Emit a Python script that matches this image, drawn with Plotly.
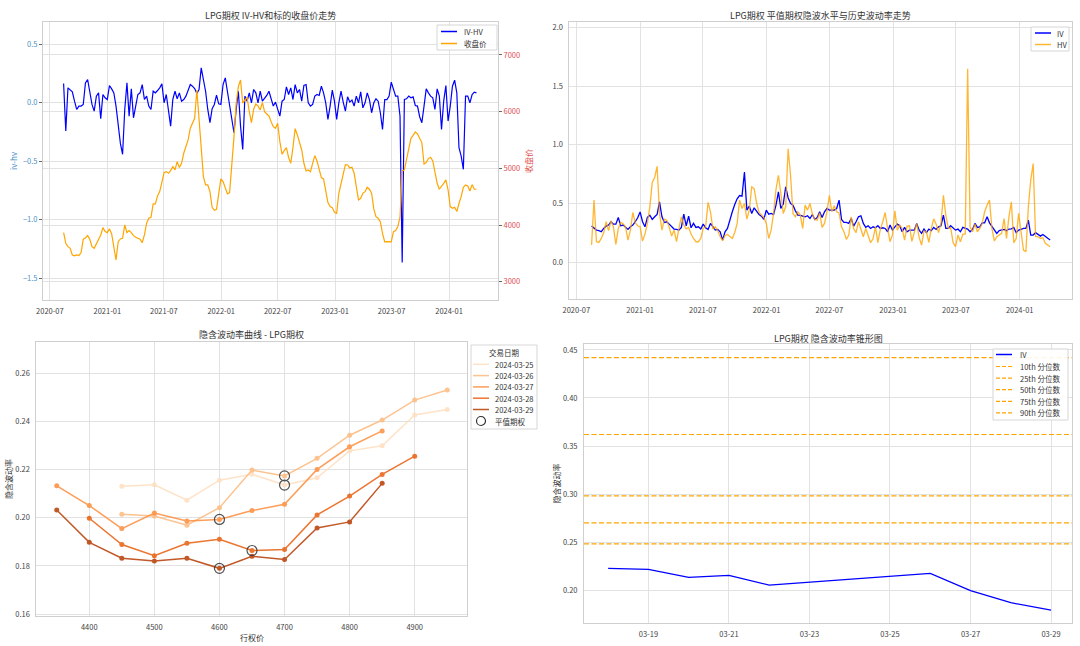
import pandas as pd
import plotly.graph_objects as go

W, H = 1080, 646
FONT = "Noto Sans CJK SC, Noto Sans, DejaVu Sans, sans-serif"
TXT = "#333333"
GRID = "#e2e2e2"
SPINE = "#cfcfcf"

# ---------------- data (weekly samples) ----------------
week_start = "2020-08-14"
week_count = 190

iv_hv = [
    0.165, -0.24, 0.128, 0.114, 0.094, 0.014, -0.057, -0.028, -0.028, -0.014,
    0.170, 0.199, 0.085, -0.014, -0.071, 0.057, 0.085, -0.136, 0.071, 0.043,
    0.028, 0.148, 0.119, 0.085, -0.028, -0.199, -0.347, -0.44, -0.057, 0.170,
    -0.114, 0.119, -0.128, -0.028, 0.071, 0.085, 0.156, 0.028, 0.057, -0.028,
    -0.057, 0.099, 0.085, 0.105, 0.128, 0.162, 0.0, 0.071, -0.057, -0.199,
    0.03, 0.099, 0.034, 0.085, 0.014, 0.028, 0.057, 0.105, 0.156, 0.142,
    0.122, 0.080, 0.114, 0.298, 0.199, 0.099, -0.057, -0.170, -0.051, -0.014,
    0.065, -0.009, -0.014, 0.156, 0.213, 0.085, -0.043, -0.142, -0.256, -0.057,
    0.099, -0.199, -0.398, 0.057, 0.014, 0.085, 0.0, 0.114, 0.085, 0.0,
    0.099, 0.014, 0.034, 0.063, 0.099, 0.043, -0.028, 0.006, -0.057, -0.114,
    0.014, 0.028, 0.136, 0.071, 0.128, 0.028, 0.156, 0.085, 0.114, 0.014,
    0.148, 0.156, 0.0, -0.028, -0.014, 0.057, 0.071, 0.063, 0.142, 0.085,
    0.0, -0.142, -0.028, 0.108, 0.014, -0.142, 0.0, 0.099, 0.006, -0.071,
    0.051, 0.006, 0.023, -0.028, 0.057, 0.0, 0.094, -0.043, 0.0, 0.085,
    0.028, -0.085, 0.0, 0.034, 0.014, -0.085, -0.227, 0.028, 0.028, 0.057,
    0.176, 0.114, 0.057, 0.057, -0.114, -1.364, 0.028, 0.034, 0.057, 0.043,
    0.051, -0.023, -0.028, -0.119, -0.170, -0.028, 0.119, 0.085, 0.057, 0.043,
    -0.057, 0.119, 0.057, -0.227, 0.014, 0.148, -0.156, -0.028, 0.142, 0.193,
    0.085, -0.384, -0.455, -0.568, 0.057, 0.057, 0.0, 0.071, 0.091, 0.085,
]

close_price = [
    3866, 3678, 3619, 3590, 3472, 3455, 3472, 3460, 3513, 3749,
    3772, 3813, 3749, 3619, 3590, 3666, 3737, 3825, 3954, 3884,
    3866, 3931, 3843, 3631, 3384, 3707, 3754, 3766, 4001, 3866,
    3901, 3866, 3813, 3784, 3766, 3749, 3690, 3825, 4031, 4119,
    4137, 4372, 4372, 4513, 4589, 4766, 4925, 4942, 4913, 4960,
    5030, 4972, 5119, 5013, 5089, 5266, 5395, 5501, 5707, 5795,
    5883, 6383, 5854, 5277, 4854, 4707, 4707, 4589, 4313, 4260,
    4278, 4548, 4813, 4766, 4666, 4548, 4572, 5001, 5560, 6148,
    6442, 6559, 6148, 6206, 6253, 6001, 5807, 6042, 6136, 6101,
    6030, 6159, 6001, 5959, 5924, 5824, 5736, 5707, 5795, 5471,
    5248, 5313, 5366, 5189, 5089, 5371, 5701, 5589, 5460, 5324,
    5089, 4954, 4972, 4942, 5089, 5224, 5130, 4954, 4836, 4813,
    4607, 4395, 4325, 4307, 4225, 4207, 4560, 4748, 4901, 5066,
    5060, 5007, 5019, 4913, 4678, 4442, 4472, 4560, 4589, 4666,
    4631, 4560, 4284, 4148, 4119, 4060, 3854, 3702, 3707, 3702,
    3702, 3884, 3901, 3972, 4137, 4954, 4972, 5160, 5354, 5530,
    5583, 5642, 5607, 5524, 5454, 5077, 5101, 5172, 5195, 5130,
    4925, 4736, 4631, 4678, 4736, 4795, 4619, 4325, 4295, 4313,
    4237, 4384, 4501, 4666, 4707, 4689, 4601, 4713, 4631, 4631,
]

atm_iv = [
    0.308, 0.288, 0.274, 0.269, 0.260, 0.288, 0.308, 0.317, 0.345, 0.325,
    0.325, 0.382, 0.311, 0.317, 0.302, 0.280, 0.302, 0.317, 0.345, 0.379,
    0.429, 0.345, 0.302, 0.382, 0.401, 0.365, 0.387, 0.407, 0.515, 0.387,
    0.339, 0.345, 0.325, 0.302, 0.283, 0.280, 0.274, 0.297, 0.410, 0.311,
    0.393, 0.294, 0.331, 0.297, 0.302, 0.283, 0.325, 0.294, 0.280, 0.331,
    0.302, 0.274, 0.280, 0.260, 0.189, 0.260, 0.288, 0.368, 0.430, 0.492,
    0.540, 0.568, 0.563, 0.769, 0.444, 0.478, 0.416, 0.464, 0.436, 0.407,
    0.393, 0.365, 0.444, 0.410, 0.416, 0.407, 0.486, 0.599, 0.458, 0.495,
    0.642, 0.550, 0.501, 0.486, 0.438, 0.402, 0.399, 0.393, 0.387, 0.396,
    0.373, 0.407, 0.365, 0.382, 0.430, 0.382, 0.430, 0.458, 0.444, 0.444,
    0.444, 0.458, 0.529, 0.365, 0.339, 0.339, 0.331, 0.373, 0.308, 0.345,
    0.387, 0.396, 0.331, 0.297, 0.311, 0.288, 0.302, 0.294, 0.311, 0.288,
    0.294, 0.288, 0.260, 0.317, 0.274, 0.302, 0.325, 0.311, 0.260, 0.297,
    0.260, 0.274, 0.274, 0.274, 0.331, 0.274, 0.246, 0.283, 0.252, 0.283,
    0.269, 0.297, 0.280, 0.302, 0.311, 0.402, 0.288, 0.288, 0.311, 0.288,
    0.274, 0.283, 0.260, 0.297, 0.288, 0.283, 0.260, 0.280, 0.331, 0.297,
    0.302, 0.336, 0.336, 0.387, 0.336, 0.302, 0.280, 0.246, 0.269, 0.274,
    0.280, 0.269, 0.283, 0.285, 0.297, 0.252, 0.274, 0.280, 0.288, 0.288,
    0.359, 0.232, 0.232, 0.252, 0.240, 0.223, 0.237, 0.218, 0.204, 0.189,
]

hist_vol = [
    0.147, 0.53, 0.175, 0.169, 0.203, 0.251, 0.345, 0.269, 0.353, 0.302,
    0.152, 0.288, 0.339, 0.328, 0.300, 0.189, 0.274, 0.424, 0.336, 0.311,
    0.302, 0.181, 0.240, 0.331, 0.472, 0.679, 0.721, 0.817, 0.416, 0.274,
    0.368, 0.359, 0.297, 0.223, 0.274, 0.175, 0.288, 0.387, 0.317, 0.285,
    0.297, 0.240, 0.203, 0.175, 0.175, 0.203, 0.288, 0.302, 0.51, 0.43,
    0.283, 0.302, 0.269, 0.217, 0.184, 0.229, 0.237, 0.217, 0.203, 0.254,
    0.331, 0.529, 0.458, 0.501, 0.368, 0.444, 0.642, 0.628, 0.506, 0.424,
    0.402, 0.382, 0.331, 0.203, 0.274, 0.416, 0.620, 0.741, 0.585, 0.416,
    0.472, 0.967, 0.741, 0.416, 0.387, 0.430, 0.402, 0.288, 0.487, 0.444,
    0.501, 0.410, 0.365, 0.359, 0.421, 0.297, 0.331, 0.430, 0.57, 0.430,
    0.481, 0.430, 0.421, 0.302, 0.260, 0.195, 0.232, 0.387, 0.288, 0.252,
    0.345, 0.288, 0.217, 0.288, 0.223, 0.167, 0.200, 0.302, 0.167, 0.280,
    0.345, 0.424, 0.288, 0.175, 0.232, 0.438, 0.274, 0.317, 0.288, 0.189,
    0.308, 0.311, 0.178, 0.260, 0.331, 0.212, 0.147, 0.266, 0.260, 0.169,
    0.288, 0.370, 0.325, 0.252, 0.331, 0.57, 0.40, 0.288, 0.294, 0.167,
    0.133, 0.232, 0.175, 0.240, 0.24, 1.647, 0.302, 0.260, 0.325, 0.260,
    0.288, 0.331, 0.430, 0.487, 0.529, 0.288, 0.181, 0.217, 0.232, 0.246,
    0.373, 0.203, 0.387, 0.515, 0.167, 0.203, 0.416, 0.274, 0.104, 0.090,
    0.47, 0.70, 0.84, 0.22, 0.217, 0.203, 0.209, 0.161, 0.147, 0.133,
]

# volatility smile per trade date
smile_dates = ["2024-03-25", "2024-03-26", "2024-03-27", "2024-03-28", "2024-03-29"]
strikes_0325 = [4450, 4500, 4550, 4600, 4650, 4700, 4750, 4800, 4850, 4900, 4950]
iv_0325 = [0.2131, 0.2137, 0.2073, 0.2156, 0.2181, 0.2136, 0.2166, 0.2278, 0.2299, 0.2427, 0.2450]
strikes_0326 = [4450, 4500, 4550, 4600, 4650, 4700, 4750, 4800, 4850, 4900, 4950]
iv_0326 = [0.2015, 0.2007, 0.1969, 0.2042, 0.2198, 0.2174, 0.2247, 0.2343, 0.2406, 0.2489, 0.2531]
strikes_0327 = [4350, 4400, 4450, 4500, 4550, 4600, 4650, 4700, 4750, 4800, 4850]
iv_0327 = [0.2133, 0.2051, 0.1955, 0.2020, 0.1987, 0.1993, 0.2030, 0.2056, 0.2201, 0.2295, 0.2361]
strikes_0328 = [4400, 4450, 4500, 4550, 4600, 4650, 4700, 4750, 4800, 4850, 4900]
iv_0328 = [0.1998, 0.1889, 0.1842, 0.1894, 0.1911, 0.1864, 0.1868, 0.2012, 0.2090, 0.2180, 0.2256]
strikes_0329 = [4350, 4400, 4450, 4500, 4550, 4600, 4650, 4700, 4750, 4800, 4850]
iv_0329 = [0.2032, 0.1898, 0.1832, 0.1820, 0.1832, 0.1790, 0.1840, 0.1827, 0.1958, 0.1983, 0.2143]
atm_strikes = [4700, 4700, 4600, 4650, 4600]
smile_colors = ["#fedfbf", "#fdb97d", "#fd8d3c", "#e95e0d", "#b73c02"]

# volatility cone
cone_dates = ["2024-03-18", "2024-03-19", "2024-03-20", "2024-03-21", "2024-03-22",
              "2024-03-25", "2024-03-26", "2024-03-27", "2024-03-28", "2024-03-29"]
cone_iv = [0.2226, 0.2216, 0.2132, 0.2153, 0.2052, 0.2139, 0.2174, 0.1993, 0.1868, 0.1792]
pct_names = ["10th 分位数", "25th 分位数", "50th 分位数", "75th 分位数", "90th 分位数"]
pct_values = [0.248, 0.270, 0.298, 0.362, 0.442]

# ---------------- figure ----------------
weeks = pd.date_range(week_start, periods=week_count, freq="7D")
fig = go.Figure()

fig.add_trace(go.Scatter(x=weeks, y=iv_hv, mode="lines", name="IV-HV",
                         line=dict(color="#0000ff", width=1.2), xaxis="x", yaxis="y",
                         showlegend=False))
fig.add_trace(go.Scatter(x=weeks, y=close_price, mode="lines", name="收盘价",
                         line=dict(color="#ffa500", width=1.2), xaxis="x", yaxis="y2",
                         showlegend=False))
fig.add_trace(go.Scatter(x=weeks, y=atm_iv, mode="lines", name="IV",
                         line=dict(color="#0000ff", width=1.3), xaxis="x2", yaxis="y3",
                         showlegend=False))
fig.add_trace(go.Scatter(x=weeks, y=hist_vol, mode="lines", name="HV", opacity=0.8,
                         line=dict(color="#ffa500", width=1.3), xaxis="x2", yaxis="y3",
                         showlegend=False))

smile_strikes = [strikes_0325, strikes_0326, strikes_0327, strikes_0328, strikes_0329]
smile_ivs = [iv_0325, iv_0326, iv_0327, iv_0328, iv_0329]
for d, ks, vs, c in zip(smile_dates, smile_strikes, smile_ivs, smile_colors):
    fig.add_trace(go.Scatter(x=ks, y=vs, mode="lines+markers", name=d, opacity=0.85,
                             line=dict(color=c, width=1.5), marker=dict(color=c, size=5),
                             xaxis="x3", yaxis="y4", showlegend=False))
atm_x, atm_y = [], []
for ks, vs, a in zip(smile_strikes, smile_ivs, atm_strikes):
    atm_x.append(a)
    atm_y.append(vs[ks.index(a)])
fig.add_trace(go.Scatter(x=atm_x, y=atm_y, mode="markers", name="平值期权",
                         marker=dict(symbol="circle-open", size=10, color="#333333",
                                     line=dict(width=1.2, color="#333333")),
                         opacity=0.85, xaxis="x3", yaxis="y4", showlegend=False))

fig.add_trace(go.Scatter(x=cone_dates, y=cone_iv, mode="lines", name="IV",
                         line=dict(color="#0000ff", width=1.3), xaxis="x4", yaxis="y5",
                         showlegend=False))


def px(x):
    return x / W


def py(y):
    return 1 - y / H


shapes = []
annots = []

for v in pct_values:
    shapes.append(dict(type="line", xref="x4 domain", yref="y5", x0=0, x1=1, y0=v, y1=v,
                       line=dict(color="#ffa500", width=1.2, dash="5px,2.5px"), layer="above"))


def legend_box(x0, y0, x1, y1):
    shapes.append(dict(type="rect", xref="paper", yref="paper", x0=px(x0), x1=px(x1),
                       y0=py(y1), y1=py(y0), fillcolor="rgba(255,255,255,0.9)",
                       line=dict(color="#d6d6d6", width=1), layer="above"))


def legend_line(x0, x1, y, color, dash="solid", width=1.5, opacity=1.0):
    shapes.append(dict(type="line", xref="paper", yref="paper", x0=px(x0), x1=px(x1),
                       y0=py(y), y1=py(y), line=dict(color=color, width=width, dash=dash),
                       opacity=opacity, layer="above"))


def text(x, y, s, size=7.5, color=TXT, anchor="left", angle=0):
    annots.append(dict(xref="paper", yref="paper", x=px(x), y=py(y), text=s, showarrow=False,
                       xanchor=anchor, yanchor="middle", textangle=angle, borderpad=0,
                       font=dict(size=size, color=color, family=FONT)))


# legends
legend_box(437, 25, 497, 50)
legend_line(441, 457, 31.5, "#0000ff")
text(463, 31.5, "IV-HV")
legend_line(441, 457, 43.5, "#ffa500")
text(463, 43.5, "收盘价")

legend_box(1031, 27, 1069, 51)
legend_line(1035, 1051, 33, "#0000ff")
text(1056, 33, "IV")
legend_line(1035, 1051, 44.5, "#ffa500", opacity=0.8)
text(1056, 44.5, "HV")

legend_box(471, 345, 537, 429)
text(504, 352.5, "交易日期", anchor="center")
for i, (d, c) in enumerate(zip(smile_dates, smile_colors)):
    yy = 364.3 + i * 11.3
    legend_line(473, 489, yy, c, opacity=0.85)
    text(494, yy, d)
shapes.append(dict(type="circle", xref="paper", yref="paper", x0=px(476.5), x1=px(485.5),
                   y0=py(425.5), y1=py(416.5), line=dict(color="#333333", width=1.2),
                   layer="above"))
text(494, 421, "平值期权")

legend_box(993, 349, 1068, 420)
legend_line(996, 1012, 354.5, "#0000ff")
text(1019, 354.5, "IV")
for i, nm in enumerate(pct_names):
    yy = 366.5 + i * 11.6
    legend_line(996, 1012, yy, "#ffa500", dash="4px,2px", width=1.2)
    text(1019, yy, nm)

# titles
text(270.5, 15, "LPG期权 IV-HV和标的收盘价走势", size=9, anchor="center")
text(820, 15, "LPG期权 平值期权隐波水平与历史波动率走势", size=9, anchor="center")
text(251.7, 334, "隐含波动率曲线 - LPG期权", size=9, anchor="center")
text(828, 338, "LPG期权 隐含波动率锥形图", size=9, anchor="center")

# axis titles
text(13, 161, "iv-hv", size=8, color="#4a8fc7", anchor="center", angle=-90)
text(528, 161, "收盘价", size=8, color="#e05050", anchor="center", angle=-90)
text(8, 479, "隐含波动率", size=8, anchor="center", angle=-90)
text(251.7, 637, "行权价", size=8, anchor="center")
text(556, 483.5, "隐含波动率", size=8, anchor="center", angle=-90)

tickfont = dict(size=7.5, color="#444444", family=FONT)


def base_axis(**kw):
    d = dict(showgrid=True, gridcolor=GRID, gridwidth=1, showline=True, linecolor=SPINE,
             linewidth=1, mirror=True, zeroline=False, ticks="outside", ticklen=4,
             tickcolor="rgba(0,0,0,0)", tickfont=tickfont, automargin=False)
    d.update(kw)
    return d


fig.update_layout(
    width=W, height=H, template="none",
    margin=dict(l=0, r=0, t=0, b=0, pad=0),
    paper_bgcolor="white", plot_bgcolor="white",
    font=dict(family=FONT, size=7.5, color=TXT),
    showlegend=False,
    xaxis=base_axis(domain=[px(43), px(498)], anchor="y", type="date",
                    range=["2020-06-09", "2024-06-06"], dtick="M6", tick0="2020-07-01",
                    tickformat="%Y-%m"),
    yaxis=base_axis(domain=[py(300), py(21.7)], anchor="x", range=[-1.685, 0.693],
                    dtick=0.5, tick0=0, tickformat=".1f", tickcolor="#666666", ticklen=3,
                    tickfont=dict(size=7.5, color="#4a8fc7", family=FONT)),
    yaxis2=base_axis(overlaying="y", side="right", anchor="x", range=[2677, 7587],
                     dtick=1000, tick0=0, tickcolor="#666666", ticklen=3, mirror=False,
                     tickfont=dict(size=7.5, color="#e05050", family=FONT)),
    xaxis2=base_axis(domain=[px(569.4), px(1072)], anchor="y3", type="date",
                     range=["2020-06-11", "2024-05-31"], dtick="M6", tick0="2020-07-01",
                     tickformat="%Y-%m"),
    yaxis3=base_axis(domain=[py(299.3), py(21.7)], anchor="x2", range=[-0.315, 2.048],
                     dtick=0.5, tick0=0, tickformat=".1f"),
    xaxis3=base_axis(domain=[px(36.3), px(467.3)], anchor="y4", range=[4318.6, 4980.8],
                     dtick=100, tick0=0),
    yaxis4=base_axis(domain=[py(616), py(342.3)], anchor="x3", range=[0.1592, 0.2729],
                     dtick=0.02, tick0=0, tickformat=".2f"),
    xaxis4=base_axis(domain=[px(584), px(1072)], anchor="y5", type="date",
                     range=["2024-03-17 09:36", "2024-03-29 12:30"], dtick=2 * 86400000,
                     tick0="2024-03-19", tickformat="%m-%d"),
    yaxis5=base_axis(domain=[py(622.7), py(344.3)], anchor="x4", range=[0.166, 0.4559],
                     dtick=0.05, tick0=0, tickformat=".2f"),
    shapes=shapes,
    annotations=annots,
)

fig.write_html("out.html")
